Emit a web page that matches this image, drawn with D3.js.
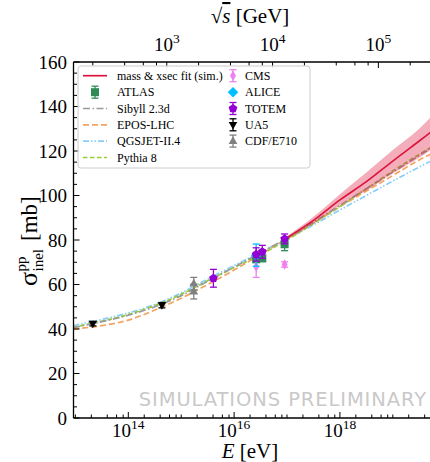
<!DOCTYPE html>
<html>
<head>
<meta charset="utf-8">
<script src="https://cdn.jsdelivr.net/npm/d3@7"></script>
<style>
  html, body { margin: 0; padding: 0; background: #fff; }
  svg { display: block; }
  text { font-family: "Liberation Serif", "DejaVu Serif", serif; fill: #000; }
</style>
</head>
<body>
<svg id="chart" width="430" height="462"></svg>
<script>
// ---- data -------------------------------------------------------------
// model predictions, sigma_inel^pp [mb] vs log10(E_lab / eV)
const modelLogE = [12.96, 13.5, 14.0, 14.5, 15.0, 15.5, 16.0, 16.5, 17.0, 17.5, 18.0, 18.5, 19.0, 19.5, 19.75];
const sibyll    = [40.6, 43.3, 46.2, 50.0, 55.0, 61.5, 67.8, 74.3, 80.8, 88.0, 95.5, 103.0, 110.5, 118.0, 121.8];
const eposLHC   = [40.0, 41.5, 44.0, 48.5, 53.8, 60.0, 66.5, 73.5, 80.5, 87.5, 95.0, 102.0, 109.0, 116.0, 119.0];
const qgsjet    = [41.5, 44.3, 47.2, 51.0, 56.2, 62.5, 68.5, 74.5, 80.5, 86.8, 93.5, 100.0, 106.5, 112.8, 115.8];
const pythia8   = [40.8, 43.5, 46.5, 50.5, 55.6, 61.7, 67.6, 73.5, 80.0, 87.5, 95.0, 103.0, 111.0, 118.5, 122.0];

// mass & cross-section fit with its uncertainty band
const fitLogE = [17.0, 17.5, 18.0, 18.5, 19.0, 19.5, 19.75];
const fitMid  = [81.0, 88.8, 98.0, 106.2, 115.5, 124.5, 129.0];
const fitLo   = [80.4, 87.4, 95.6, 102.2, 110.0, 117.0, 121.0];
const fitHi   = [81.6, 90.4, 100.6, 110.3, 120.5, 130.0, 136.0];

// accelerator measurements: sqrt(s) [GeV], sigma [mb], error [mb]
const atlasRs  = [7000, 8000, 13000], atlasSig  = [71.3, 71.7, 78.1], atlasErr  = [1.0, 1.0, 2.9];
const cmsRs    = [7000, 13000],       cmsSig    = [68.0, 69.0],       cmsErr    = [4.8, 1.2];
const aliceRs  = [7000],              aliceSig  = [73.2],             aliceErr  = [5.0];
const totemRs  = [2760, 7000, 8000, 13000], totemSig = [62.8, 73.5, 74.7, 80.5], totemErr = [4.0, 3.0, 2.9, 2.2];
const ua5Rs    = [200, 900],          ua5Sig    = [42.4, 50.7],       ua5Err    = [1.0, 1.2];
const cdfRs    = [1800, 1800],        cdfSig    = [60.4, 56.8],       cdfErr    = [2.8, 3.3];

// axis tick values
const yMajorTicks = [0, 20, 40, 60, 80, 100, 120, 140, 160];
const xMajorExp   = [14, 16, 18];
const topMajorExp = [3, 4, 5];

// ---- layout ------------------------------------------------------------
const plotL = 73.5, plotR = 432.5, plotT = 62, plotB = 418;
const svg = d3.select("#chart");

const x = d3.scaleLog().domain([10 ** 12.964, 10 ** 19.75]).range([plotL, plotR]);
const y = d3.scaleLinear().domain([0, 160]).range([plotB, plotT]);

// fixed-target energy equivalent: E = s / (2 m_p)
const MP = 0.938; // GeV
const eLab = rs => rs * rs / (2 * MP) * 1e9; // eV
const rsOf = e => Math.sqrt(e / 1e9 * 2 * MP); // GeV
const xTop = d3.scaleLog().domain([rsOf(x.domain()[0]), rsOf(x.domain()[1])]).range([plotL, plotR]);

svg.append("defs").append("clipPath").attr("id", "plotclip")
  .append("rect").attr("x", plotL).attr("y", plotT).attr("width", plotR - plotL).attr("height", plotB - plotT);

// ---- watermark -------------------------------------------------------
svg.append("text").attr("x", 427).attr("y", 406).attr("text-anchor", "end")
  .style("font-family", "'DejaVu Sans', sans-serif").style("font-size", "19.5px")
  .style("letter-spacing", "0.9px")
  .style("fill", "#c9c9c9").text("SIMULATIONS PRELIMINARY");

// ---- model curves ----------------------------------------------------
const plot = svg.append("g").attr("clip-path", "url(#plotclip)");
const line = d3.line().x(d => x(10 ** d[0])).y(d => y(d[1])).curve(d3.curveMonotoneX);
const models = [
  { vals: qgsjet,  color: "#87cefa", dash: "6,2,1.5,2,1.5,2" },
  { vals: eposLHC, color: "#f4a460", dash: "6,3" },
  { vals: pythia8, color: "#9acd32", dash: "4.5,2.5" },
  { vals: sibyll,  color: "#9a9a9a", dash: "7,2.5,1.5,2.5" }
];
models.forEach(m => {
  plot.append("path").datum(modelLogE.map((le, i) => [le, m.vals[i]]))
    .attr("d", line).attr("fill", "none").attr("stroke", m.color)
    .attr("stroke-width", 1.7).attr("stroke-dasharray", m.dash);
});

// fit band and central line
const band = d3.area().x(d => x(10 ** d[0])).y0(d => y(d[1])).y1(d => y(d[2])).curve(d3.curveMonotoneX);
plot.append("path").datum(fitLogE.map((le, i) => [le, fitLo[i], fitHi[i]]))
  .attr("d", band).attr("fill", "#dc143c").attr("fill-opacity", 0.35);
plot.append("path").datum(fitLogE.map((le, i) => [le, fitMid[i]]))
  .attr("d", line).attr("fill", "none").attr("stroke", "#dc143c").attr("stroke-width", 1.6);

// ---- markers ---------------------------------------------------------
function shapePath(type, s) {
  const pts = [];
  if (type === "square") return `M${-s},${-s}H${s}V${s}H${-s}Z`;
  if (type === "diamond") return `M0,${-s * 1.25}L${s * 1.25},0L0,${s * 1.25}L${-s * 1.25},0Z`;
  if (type === "thindiamond") return `M0,${-s * 1.3}L${s * 0.75},0L0,${s * 1.3}L${-s * 0.75},0Z`;
  if (type === "triup") return `M0,${-s * 1.2}L${s * 1.1},${s * 0.75}L${-s * 1.1},${s * 0.75}Z`;
  if (type === "tridown") return `M0,${s * 1.2}L${s * 1.1},${-s * 0.75}L${-s * 1.1},${-s * 0.75}Z`;
  if (type === "pentagon") {
    for (let k = 0; k < 5; k++) {
      const a = -Math.PI / 2 + k * 2 * Math.PI / 5;
      pts.push([s * 1.15 * Math.cos(a), s * 1.15 * Math.sin(a)]);
    }
    return "M" + pts.map(p => p.join(",")).join("L") + "Z";
  }
  return "";
}

function drawPoint(g, cx, cy, yLo, yHi, type, color, s) {
  if (yLo !== null) {
    g.append("line").attr("x1", cx).attr("x2", cx).attr("y1", yLo).attr("y2", yHi)
      .attr("stroke", color).attr("stroke-width", 1.3);
    [yLo, yHi].forEach(yy => g.append("line").attr("x1", cx - 3.5).attr("x2", cx + 3.5)
      .attr("y1", yy).attr("y2", yy).attr("stroke", color).attr("stroke-width", 1.3));
  }
  g.append("path").attr("d", shapePath(type, s)).attr("transform", `translate(${cx},${cy})`)
    .attr("fill", color);
}

const experiments = [
  { rs: atlasRs, sig: atlasSig, err: atlasErr, type: "square",      color: "#2e8b57", size: 4.0, name: "ATLAS" },
  { rs: cmsRs,   sig: cmsSig,   err: cmsErr,   type: "thindiamond", color: "#ee82ee", size: 4.0, name: "CMS" },
  { rs: aliceRs, sig: aliceSig, err: aliceErr, type: "diamond",     color: "#00bfff", size: 4.2, name: "ALICE" },
  { rs: totemRs, sig: totemSig, err: totemErr, type: "pentagon",    color: "#9400d3", size: 4.0, name: "TOTEM" },
  { rs: ua5Rs,   sig: ua5Sig,   err: ua5Err,   type: "tridown",     color: "#000000", size: 3.9, name: "UA5" },
  { rs: cdfRs,   sig: cdfSig,   err: cdfErr,   type: "triup",       color: "#808080", size: 4.0, name: "CDF/E710" }
];
const pts = svg.append("g");
experiments.forEach(ex => {
  ex.rs.forEach((rs, i) => {
    const cx = x(eLab(rs));
    drawPoint(pts, cx, y(ex.sig[i]), y(ex.sig[i] - ex.err[i]), y(ex.sig[i] + ex.err[i]), ex.type, ex.color, ex.size);
  });
});

// ---- axes ------------------------------------------------------------
const axes = svg.append("g");
axes.append("line").attr("x1", plotL).attr("x2", 430).attr("y1", plotB).attr("y2", plotB).attr("stroke", "#000").attr("stroke-width", 1.3);
axes.append("line").attr("x1", plotL).attr("x2", 430).attr("y1", plotT).attr("y2", plotT).attr("stroke", "#000").attr("stroke-width", 1.3);
axes.append("line").attr("x1", plotL).attr("x2", plotL).attr("y1", plotT).attr("y2", plotB).attr("stroke", "#000").attr("stroke-width", 1.3);

function tick(x1, y1, x2, y2) {
  axes.append("line").attr("x1", x1).attr("y1", y1).attr("x2", x2).attr("y2", y2)
    .attr("stroke", "#000").attr("stroke-width", 1);
}

// y ticks: major every 20, minor every 5
d3.range(0, 161, 5).forEach(v => {
  const major = v % 20 === 0;
  tick(plotL, y(v), plotL + (major ? 6 : 3.5), y(v));
});
yMajorTicks.forEach(v => {
  axes.append("text").attr("x", 67).attr("y", y(v) + 6.5).attr("text-anchor", "end")
    .style("font-size", "19px").text(v);
});

// log minor ticks at 1,2,4,6,8 per decade
function logTicks(scale, lo, hi, majors, onTop) {
  for (let e = lo; e <= hi; e++) {
    [1, 2, 4, 6, 8].forEach(m => {
      const v = m * 10 ** e;
      const px = scale(v);
      if (px < plotL + 0.5 || px > 430) return;
      const major = m === 1 && majors.includes(e);
      const len = major ? 6 : 3.5;
      if (onTop) tick(px, plotT, px, plotT + len); else tick(px, plotB, px, plotB - len);
    });
  }
}
logTicks(x, 12, 20, xMajorExp, false);
logTicks(xTop, 2, 5, topMajorExp, true);

function powerLabel(px, py, exp) {
  const t = axes.append("text").attr("x", px).attr("y", py).attr("text-anchor", "middle");
  t.append("tspan").style("font-size", "19px").text("10");
  t.append("tspan").attr("dy", -8).style("font-size", "13.5px").text(exp);
}
xMajorExp.forEach(e => powerLabel(x(10 ** e), 437, e));
topMajorExp.forEach(e => powerLabel(xTop(10 ** e), 51, e));

// axis titles
const xt = svg.append("text").attr("x", 250).attr("y", 458).attr("text-anchor", "middle").style("font-size", "21px");
xt.append("tspan").style("font-style", "italic").text("E");
xt.append("tspan").text(" [eV]");

const tt = svg.append("text").attr("x", 250).attr("y", 23).attr("text-anchor", "middle").style("font-size", "21px");
tt.append("tspan").text("\u221A");
tt.append("tspan").style("font-style", "italic").style("text-decoration", "overline").text("s");
tt.append("tspan").text(" [GeV]");

const yl = svg.append("g").attr("transform", "translate(37,236) rotate(-90)");
yl.append("text").attr("x", -50).attr("y", 0).style("font-size", "26px").text("\u03C3");
yl.append("text").attr("x", -35.5).attr("y", -11).style("font-size", "15px").text("pp");
yl.append("text").attr("x", -35.5).attr("y", 6).style("font-size", "15px").text("inel");
yl.append("text").attr("x", -5).attr("y", 0).style("font-size", "23px").text("[mb]");

// ---- legend ----------------------------------------------------------
const lg = svg.append("g");
lg.append("rect").attr("x", 78).attr("y", 66).attr("width", 232).attr("height", 102).attr("rx", 3)
  .attr("fill", "#fff").attr("fill-opacity", 0.85).attr("stroke", "#cccccc").attr("stroke-width", 1);
const rowY = [75.7, 92.2, 108.5, 124.8, 141.1, 157.5];

const leftEntries = [
  { label: "mass & xsec fit (sim.)", kind: "line", color: "#dc143c", dash: null },
  { label: "ATLAS", kind: "marker", ex: experiments[0] },
  { label: "Sibyll 2.3d", kind: "line", color: "#9a9a9a", dash: "7,2.5,1.5,2.5" },
  { label: "EPOS-LHC", kind: "line", color: "#f4a460", dash: "6,3" },
  { label: "QGSJET-II.4", kind: "line", color: "#87cefa", dash: "6,2,1.5,2,1.5,2" },
  { label: "Pythia 8", kind: "line", color: "#9acd32", dash: "4.5,2.5" }
];
const rightEntries = [experiments[1], experiments[2], experiments[3], experiments[4], experiments[5]];

function legendMarker(ex, cx, cy) {
  const hasErr = ex.type !== "diamond";
  drawPoint(lg, cx, cy, hasErr ? cy + 6 : null, hasErr ? cy - 6 : null, ex.type, ex.color, ex.size);
}

leftEntries.forEach((en, i) => {
  const cy = rowY[i];
  if (en.kind === "line") {
    const l = lg.append("line").attr("x1", 83).attr("x2", 107).attr("y1", cy).attr("y2", cy)
      .attr("stroke", en.color).attr("stroke-width", 1.7);
    if (en.dash) l.attr("stroke-dasharray", en.dash);
  } else {
    legendMarker(en.ex, 95, cy);
  }
  lg.append("text").attr("x", 117).attr("y", cy + 4.2).style("font-size", "12px").text(en.label);
});
rightEntries.forEach((ex, i) => {
  const cy = rowY[i];
  legendMarker(ex, 233, cy);
  lg.append("text").attr("x", 245).attr("y", cy + 4.2).style("font-size", "12px").text(ex.name);
});
</script>
</body>
</html>
